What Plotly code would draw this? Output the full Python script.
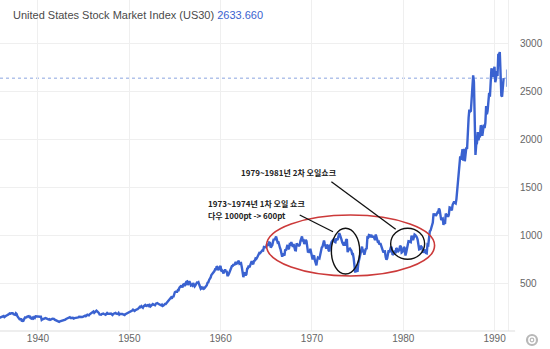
import plotly.graph_objects as go
import pandas as pd
from datetime import datetime

# ---- data: Dow Jones (US30) approximate monthly closes, Jan 1935 .. Dec 1990
start_year = 1935
dow_close = [
    104, 101, 98, 109, 111, 119, 126, 127, 131, 140, 142, 144,      # 1935
    149, 152, 156, 145, 153, 157, 164, 166, 168, 177, 184, 180,     # 1936
    185, 187, 186, 174, 175, 169, 185, 177, 154, 138, 123, 121,     # 1937
    121, 129, 99, 111, 108, 134, 141, 140, 141, 151, 149, 155,      # 1938
    143, 147, 131, 128, 138, 131, 143, 137, 153, 152, 146, 150,     # 1939
    146, 147, 148, 149, 116, 122, 127, 131, 133, 134, 131, 131,     # 1940
    124, 121, 123, 116, 116, 123, 128, 127, 127, 118, 114, 111,     # 1941
    109, 107, 100, 96, 101, 103, 106, 107, 109, 115, 114, 119,      # 1942
    125, 130, 136, 135, 142, 143, 135, 137, 140, 138, 130, 136,     # 1943
    137, 137, 138, 136, 142, 148, 146, 147, 146, 146, 147, 152,     # 1944
    153, 160, 154, 165, 169, 165, 163, 174, 181, 186, 192, 193,     # 1945
    204, 190, 199, 206, 212, 205, 201, 189, 172, 169, 169, 177,     # 1946
    180, 181, 177, 170, 169, 178, 187, 179, 177, 182, 180, 181,     # 1947
    175, 167, 177, 180, 191, 189, 181, 181, 178, 188, 171, 177,     # 1948
    179, 173, 177, 174, 168, 167, 175, 179, 182, 189, 191, 200,     # 1949
    202, 203, 206, 214, 223, 209, 209, 216, 226, 225, 227, 235,     # 1950
    249, 252, 248, 259, 250, 242, 258, 270, 271, 262, 261, 269,     # 1951
    270, 260, 270, 257, 263, 274, 280, 275, 271, 269, 284, 292,     # 1952
    290, 284, 280, 275, 272, 268, 275, 261, 265, 276, 281, 281,     # 1953
    292, 294, 304, 319, 327, 334, 348, 336, 361, 352, 387, 404,     # 1954
    409, 412, 409, 426, 425, 451, 466, 468, 467, 455, 483, 488,     # 1955
    471, 484, 512, 516, 478, 493, 518, 502, 475, 480, 473, 500,     # 1956
    479, 465, 475, 494, 505, 503, 509, 484, 456, 441, 450, 436,     # 1957
    450, 440, 447, 456, 463, 478, 503, 509, 532, 543, 558, 584,     # 1958
    594, 603, 602, 624, 644, 644, 675, 665, 632, 647, 659, 679,     # 1959
    622, 630, 616, 601, 625, 641, 617, 626, 580, 580, 597, 616,     # 1960
    648, 662, 676, 678, 697, 684, 705, 720, 701, 704, 722, 731,     # 1961
    700, 708, 706, 665, 613, 561, 597, 609, 579, 590, 649, 652,     # 1962
    683, 662, 683, 718, 727, 707, 695, 729, 733, 755, 751, 763,     # 1963
    785, 800, 813, 811, 821, 832, 841, 839, 875, 873, 875, 874,     # 1964
    903, 904, 889, 922, 918, 868, 882, 893, 931, 961, 947, 969,     # 1965
    984, 952, 925, 933, 884, 870, 847, 788, 774, 807, 792, 786,     # 1966
    850, 839, 866, 897, 853, 860, 904, 901, 927, 880, 876, 905,     # 1967
    856, 841, 840, 912, 899, 898, 883, 896, 936, 952, 985, 944,     # 1968
    946, 905, 936, 950, 937, 873, 816, 837, 813, 856, 812, 800,     # 1969
    744, 778, 786, 736, 700, 684, 735, 765, 761, 756, 794, 839,     # 1970
    869, 879, 904, 942, 908, 891, 858, 898, 887, 839, 831, 890,     # 1971
    902, 928, 941, 954, 960, 929, 925, 964, 953, 956, 1018, 1020,   # 1972
    999, 955, 951, 921, 901, 892, 926, 888, 947, 957, 822, 851,     # 1973
    856, 860, 847, 837, 802, 802, 757, 679, 608, 666, 619, 616,     # 1974
    704, 739, 768, 821, 832, 879, 832, 835, 794, 836, 860, 852,     # 1975
    975, 973, 1000, 997, 975, 1003, 985, 974, 990, 965, 947, 1005,  # 1976
    954, 947, 919, 927, 899, 916, 891, 862, 847, 818, 830, 831,     # 1977
    770, 742, 757, 837, 841, 819, 862, 877, 866, 793, 799, 805,     # 1978
    839, 809, 862, 855, 822, 842, 846, 888, 878, 816, 822, 839,     # 1979
    876, 863, 786, 817, 851, 868, 935, 933, 932, 925, 993, 964,     # 1980
    947, 975, 1004, 998, 992, 977, 953, 882, 850, 853, 889, 875,    # 1981
    872, 824, 823, 848, 820, 812, 809, 901, 896, 992, 1039, 1047,   # 1982
    1076, 1113, 1130, 1226, 1200, 1222, 1199, 1216, 1233, 1225, 1276, 1259,  # 1983
    1221, 1155, 1165, 1171, 1105, 1132, 1115, 1224, 1207, 1207, 1189, 1212,  # 1984
    1287, 1284, 1267, 1258, 1315, 1336, 1348, 1334, 1329, 1374, 1472, 1547,  # 1985
    1571, 1709, 1819, 1784, 1877, 1893, 1775, 1898, 1768, 1878, 1914, 1896,  # 1986
    2158, 2224, 2305, 2286, 2292, 2419, 2572, 2663, 2596, 1994, 1834, 1939,  # 1987
    1958, 2072, 1988, 2032, 2031, 2142, 2129, 2032, 2113, 2149, 2115, 2169,  # 1988
    2342, 2259, 2294, 2419, 2480, 2440, 2661, 2737, 2693, 2645, 2706, 2753,  # 1989
    2591, 2627, 2707, 2657, 2877, 2881, 2905, 2614, 2453, 2442, 2560, 2633.66,  # 1990
]
last_value = 2633.66
title_text = "United States Stock Market Index (US30)"
y_ticks = [500, 1000, 1500, 2000, 2500, 3000]
x_tick_years = [1940, 1950, 1960, 1970, 1980, 1990]
note_shock2 = "1979~1981년 2차 오일쇼크"
note_shock1 = "1973~1974년 1차 오일 쇼크"
note_dow = "다우 1000pt -> 600pt"


def yr(f):
    """decimal year -> date string"""
    y = int(f)
    d0 = datetime(y, 1, 1)
    d1 = datetime(y + 1, 1, 1)
    return (d0 + (d1 - d0) * (f - y)).strftime("%Y-%m-%d %H:%M")


dates = pd.date_range(f"{start_year}-01-01", periods=len(dow_close), freq="MS") + pd.Timedelta(days=27)

BLUE = "#3a62d0"
fig = go.Figure()
fig.add_trace(go.Scatter(
    x=dates, y=dow_close, mode="lines",
    line=dict(color=BLUE, width=2.4),
    hoverinfo="skip", showlegend=False,
))

x0, x1 = 1935.84, 1991.47
PW, PH = 508, 331  # plot area size in px (for paper-referenced decorations)


def gear(cx, cy, r, lw):
    return dict(type="circle", xref="paper", yref="paper",
                x0=(cx - r) / PW, x1=(cx + r) / PW, y0=-(cy + r - PH) / PH, y1=-(cy - r - PH) / PH,
                line=dict(color="#b8b8b8", width=lw))


shapes = [
    # current value dotted line
    dict(type="line", xref="x", yref="y", x0=yr(x0), x1=yr(1991.3), y0=last_value, y1=last_value,
         line=dict(color="#8aa4e0", width=1, dash="dot"), layer="below"),
    dict(type="line", xref="x", yref="y", x0=yr(1991.3), x1=yr(1991.3), y0=last_value - 90, y1=last_value + 90,
         line=dict(color="#8aa4e0", width=1)),
    # red ellipse
    dict(type="circle", xref="x", yref="y", x0=yr(1965.02), x1=yr(1983.43), y0=573, y1=1208,
         line=dict(color="#cc3a3a", width=1.6)),
    # black ellipses
    dict(type="circle", xref="x", yref="y", x0=yr(1972.13), x1=yr(1975.23), y0=594, y1=1070,
         line=dict(color="#111111", width=1.4)),
    dict(type="circle", xref="x", yref="y", x0=yr(1978.62), x1=yr(1982.34), y0=747, y1=1070,
         line=dict(color="#111111", width=1.4)),
    # pointer lines
    dict(type="line", xref="x", yref="y", x0=yr(1968.66), x1=yr(1972.31), y0=1208, y1=1034,
         line=dict(color="#111111", width=1.3)),
    dict(type="line", xref="x", yref="y", x0=yr(1972.13), x1=yr(1979.17), y0=1555, y1=1059,
         line=dict(color="#111111", width=1.3)),
    # x-axis baseline extending slightly past the plot
    dict(type="line", xref="paper", yref="paper", x0=0, x1=1.014, y0=0, y1=0,
         line=dict(color="#dddddd", width=1)),
    # settings gear icon
    gear(532, 340, 5, 2.2),
    gear(532, 340, 1.8, 1.2),
]

ann_font = dict(family="Noto Sans CJK KR", size=8, color="#222222")
annotations = [
    dict(x=yr(1961.99), y=1655, xref="x", yref="y", text=f"<b>{note_shock2}</b>", showarrow=False,
         xanchor="left", yanchor="middle", font=ann_font),
    dict(x=yr(1958.45), y=1333, xref="x", yref="y", text=f"<b>{note_shock1}</b>", showarrow=False,
         xanchor="left", yanchor="middle", font=ann_font),
    dict(x=yr(1958.45), y=1208, xref="x", yref="y", text=f"<b>{note_dow}</b>", showarrow=False,
         xanchor="left", yanchor="middle", font=ann_font),
]

fig.update_layout(
    width=550, height=349,
    margin=dict(l=0, r=42, t=0, b=18),
    paper_bgcolor="white", plot_bgcolor="white",
    title=dict(
        text=f"<span style='color:#4a4a4a'>{title_text}</span> <span style='color:#3a62d0'>{last_value:.3f}</span>",
        x=13 / 550, xanchor="left", y=1 - 15 / 349, yanchor="middle",
        font=dict(family="Liberation Sans, Arial", size=11),
    ),
    xaxis=dict(
        type="date", range=[yr(x0), yr(x1)],
        tickvals=[f"{y}-01-01" for y in x_tick_years], ticktext=[str(y) for y in x_tick_years],
        showgrid=True, gridcolor="#efefef", gridwidth=1,
        showline=False,
        ticks="", tickfont=dict(family="Liberation Sans, Arial", size=10, color="#666666"),
        zeroline=False, fixedrange=True,
    ),
    yaxis=dict(
        side="right", range=[0, 3448], tickvals=y_ticks,
        showgrid=True, gridcolor="#efefef", gridwidth=1,
        ticks="", ticklabelstandoff=9,
        tickfont=dict(family="Liberation Sans, Arial", size=10, color="#666666"),
        zeroline=False, showline=True, linecolor="#efefef", linewidth=1,
    ),
    shapes=shapes, annotations=annotations,
)

fig.write_html("out.html")
